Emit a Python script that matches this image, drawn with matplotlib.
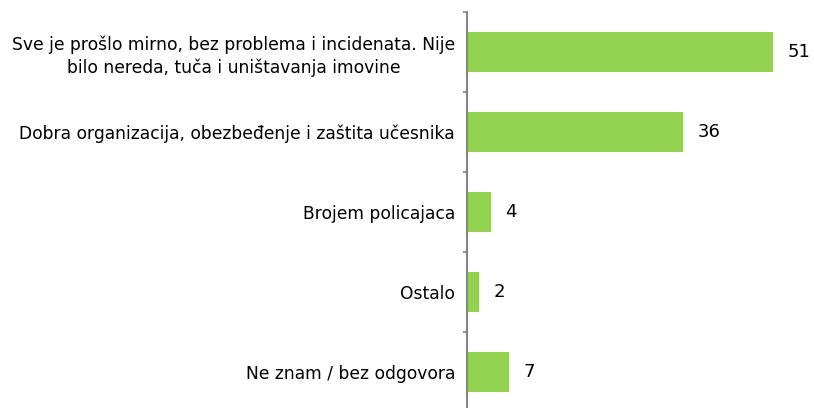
import matplotlib
matplotlib.use("Agg")
import matplotlib.pyplot as plt
import numpy as np

categories = [
    "Sve je prošlo mirno, bez problema i incidenata. Nije\nbilo nereda, tuča i uništavanja imovine",
    "Dobra organizacija, obezbeđenje i zaštita učesnika",
    "Brojem policajaca",
    "Ostalo",
    "Ne znam / bez odgovora",
]
values = [51, 36, 4, 2, 7]

bar_color = "#92D050"
axis_color = "#868686"

fig = plt.figure(figsize=(8.14, 4.08), dpi=100)
ax = fig.add_axes([467 / 814, -4 / 408, 336 / 814, 400 / 408])

y = np.arange(len(categories))
ax.barh(y, values, height=0.5, color=bar_color)
ax.set_ylim(len(categories) - 0.5, -0.5)
ax.set_xlim(0, 56)

for yi, v in zip(y, values):
    ax.text(v + 2.4, yi, str(v), va="center", ha="left", fontsize=13, color="#000000")

ax.set_yticks(y)
ax.set_yticklabels(categories, fontsize=12.3, multialignment="center", linespacing=1.3)
ax.tick_params(axis="y", which="major", length=0, pad=8.6)
ax.set_yticks(np.arange(-0.5, len(categories) + 0.5, 1), minor=True)
ax.tick_params(axis="y", which="minor", length=3, width=1.2, color=axis_color, direction="out")

ax.set_xticks([])
for side in ["top", "right", "bottom"]:
    ax.spines[side].set_visible(False)
ax.spines["left"].set_color(axis_color)
ax.spines["left"].set_linewidth(1.5)

fig.savefig("out.png", dpi=100)
